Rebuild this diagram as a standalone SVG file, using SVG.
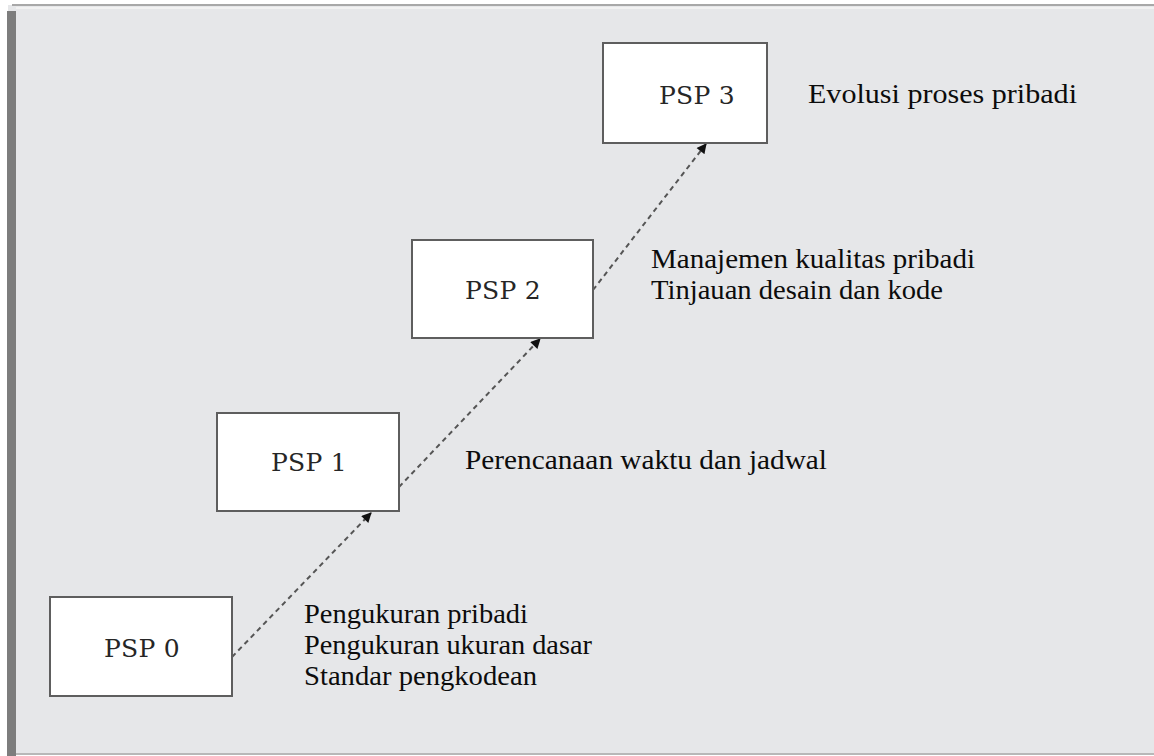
<svg xmlns="http://www.w3.org/2000/svg" width="1154" height="756" viewBox="0 0 1154 756">
<style>
.box{fill:#ffffff;stroke:#5e5e5e;stroke-width:2}
.lbl{font-family:"DejaVu Serif","Liberation Serif",serif;font-size:25px;fill:#262626;text-anchor:middle;letter-spacing:0.3px}
.txt{font-family:"Liberation Serif","Times New Roman",serif;font-size:28px;fill:#0c0c0c}
.conn{stroke:#555555;stroke-width:2;stroke-dasharray:5 4;fill:none}
</style>
<defs>
<marker id="ah" viewBox="0 0 10 10" refX="9" refY="5" markerWidth="11" markerHeight="10" orient="auto" markerUnits="userSpaceOnUse">
<path d="M0,0 L10,5 L0,10 z" fill="#111111"/>
</marker>
</defs>
<rect x="0" y="0" width="1154" height="756" fill="#ffffff"/>
<rect x="8" y="5" width="1146" height="750" fill="#e6e7e9"/>
<line x1="12" y1="5" x2="1154" y2="5" stroke="#a8a8a8" stroke-width="2"/>
<line x1="16" y1="8" x2="1154" y2="8" stroke="#f2f2f2" stroke-width="2"/>
<line x1="12" y1="754" x2="1154" y2="754" stroke="#b8b8b8" stroke-width="2"/>
<rect x="7" y="11" width="9" height="745" fill="#7d7d7d"/>
<g id="connectors">
<line class="conn" x1="232" y1="657" x2="371" y2="513" marker-end="url(#ah)"/>
<line class="conn" x1="399" y1="487" x2="540" y2="339" marker-end="url(#ah)"/>
<line class="conn" x1="593" y1="290" x2="706" y2="144" marker-end="url(#ah)"/>
</g>
<g id="psp0">
<rect class="box" x="50" y="597" width="182" height="99"/>
<text class="lbl" x="142" y="657">PSP 0</text>
</g>
<g id="psp1">
<rect class="box" x="217" y="413" width="182" height="98"/>
<text class="lbl" x="309" y="471">PSP 1</text>
</g>
<g id="psp2">
<rect class="box" x="412" y="240" width="181" height="98"/>
<text class="lbl" x="503" y="299">PSP 2</text>
</g>
<g id="psp3">
<rect class="box" x="603" y="43" width="164" height="100"/>
<text class="lbl" x="697" y="104">PSP 3</text>
</g>
<g id="notes">
<text class="txt" x="304" y="623" textLength="224" lengthAdjust="spacingAndGlyphs">Pengukuran pribadi</text>
<text class="txt" x="304" y="654" textLength="288" lengthAdjust="spacingAndGlyphs">Pengukuran ukuran dasar</text>
<text class="txt" x="304" y="685" textLength="233" lengthAdjust="spacingAndGlyphs">Standar pengkodean</text>
<text class="txt" x="465" y="469" textLength="362" lengthAdjust="spacingAndGlyphs">Perencanaan waktu dan jadwal</text>
<text class="txt" x="651" y="268" textLength="324" lengthAdjust="spacingAndGlyphs">Manajemen kualitas pribadi</text>
<text class="txt" x="651" y="299" textLength="292" lengthAdjust="spacingAndGlyphs">Tinjauan desain dan kode</text>
<text class="txt" x="808" y="103" textLength="269" lengthAdjust="spacingAndGlyphs">Evolusi proses pribadi</text>
</g>
</svg>
